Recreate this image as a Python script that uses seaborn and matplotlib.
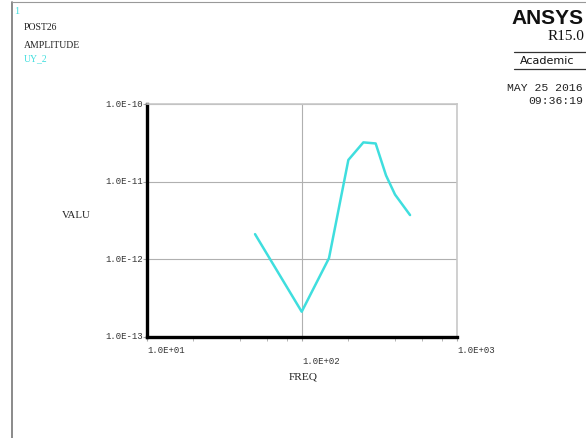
# ==========================
# Import Libraries
# ==========================

import pandas as pd
import matplotlib
matplotlib.use("Agg")
import matplotlib.pyplot as plt
import seaborn as sns
from matplotlib.lines import Line2D
from matplotlib.ticker import LogLocator, NullFormatter, FixedLocator

# ==========================
# Data
# ==========================

freq = [50, 100, 150, 200, 250, 300, 350, 400, 500]
uy_2 = [2.1e-12, 2.1e-13, 1.03e-12, 1.9e-11, 3.2e-11, 3.1e-11, 1.2e-11, 6.8e-12, 3.7e-12]

x_ticks = [1e1, 1e2, 1e3]
x_tick_labels = ["1.0E+01", "1.0E+02", "1.0E+03"]
y_ticks = [1e-13, 1e-12, 1e-11, 1e-10]
y_tick_labels = ["1.0E-13", "1.0E-12", "1.0E-11", "1.0E-10"]

df = pd.DataFrame({"FREQ": freq, "VALU": uy_2})

# ==========================
# Figure
# ==========================

sns.set_style("white")
plt.rcParams["font.family"] = ["Liberation Serif", "DejaVu Serif"]

W, H = 586, 438
fig = plt.figure(figsize=(W / 100, H / 100), dpi=100)
ax = fig.add_axes([146.7 / W, 1 - 336.7 / H, 310 / W, 232.7 / H])

sns.lineplot(
    data=df,
    x="FREQ",
    y="VALU",
    color="#3fdede",
    linewidth=1.8,
    ax=ax
)

ax.set_xscale("log")
ax.set_yscale("log")
ax.set_xlim(1e1, 1e3)
ax.set_ylim(1e-13, 1e-10)

# grid and spines
ax.xaxis.set_major_locator(FixedLocator(x_ticks))
ax.yaxis.set_major_locator(FixedLocator(y_ticks))
ax.xaxis.set_minor_locator(LogLocator(base=10, subs=(2, 4, 6, 8)))
ax.yaxis.set_minor_locator(FixedLocator([]))
ax.xaxis.set_minor_formatter(NullFormatter())
ax.set_xticklabels([])
ax.set_yticklabels([])
ax.grid(True, which="major", color="#b0b0b0", linewidth=0.8)

for side in ["left", "bottom"]:
    ax.spines[side].set_color("black")
    ax.spines[side].set_linewidth(2.4)
for side in ["top", "right"]:
    ax.spines[side].set_color("#c8c8c8")
    ax.spines[side].set_linewidth(1.2)

ax.tick_params(axis="both", which="major", direction="out", length=3,
               width=0.8, color="#a8a8a8", bottom=True, left=True)
ax.tick_params(axis="x", which="minor", direction="out", length=3,
               width=0.6, color="#a8a8a8", bottom=True)
ax.set_xlabel("")
ax.set_ylabel("")

# ==========================
# Tick labels (staggered, like ANSYS)
# ==========================

mono = {"family": ["Liberation Mono", "DejaVu Sans Mono"], "size": 6.5, "color": "#333333"}
for i, (xv, lab) in enumerate(zip(x_ticks, x_tick_labels)):
    dy = -14 if i % 2 == 0 else -25
    ax.annotate(lab, xy=(xv, 1e-13), xycoords="data",
                xytext=(1, dy), textcoords="offset pixels",
                ha="left", va="center", **mono)
for yv, lab in zip(y_ticks, y_tick_labels):
    ax.annotate(lab, xy=(1e1, yv), xycoords="data",
                xytext=(-4, 0), textcoords="offset pixels",
                ha="right", va="center", **mono)

serif = {"family": ["Liberation Serif", "DejaVu Serif"], "color": "#222222"}
fig.text(62 / W, 1 - 216 / H, "VALU", ha="left", va="center", size=7.8, **serif)
fig.text(303 / W, 1 - 377 / H, "FREQ", ha="center", va="center", size=8.2, **serif)

# ==========================
# Header texts
# ==========================

fig.text(14 / W, 1 - 12 / H, "1", ha="left", va="center", size=7.5,
         color="#3fdede", family=["Liberation Serif"])
fig.text(24 / W, 1 - 27 / H, "POST26", ha="left", va="center", size=7, **serif)
fig.text(24 / W, 1 - 46 / H, "AMPLITUDE", ha="left", va="center", size=7, **serif)
fig.text(24 / W, 1 - 59 / H, "UY_2", ha="left", va="center", size=7,
         color="#3fdede", family=["Liberation Serif"])

fig.text(584 / W, 1 - 18 / H, "ANSYS", ha="right", va="center", size=15,
         weight="bold", family=["Liberation Sans", "DejaVu Sans"], color="#111111")
fig.text(584 / W, 1 - 36 / H, "R15.0", ha="right", va="center", size=11,
         family=["Liberation Serif"], color="#111111")
fig.text(520 / W, 1 - 61 / H, "Academic", ha="left", va="center", size=8,
         family=["DejaVu Sans"], color="#111111")
for yy in [52, 69]:
    fig.add_artist(Line2D([514 / W, 1.0], [1 - yy / H, 1 - yy / H],
                          color="#333333", linewidth=0.9))
fig.text(583 / W, 1 - 88 / H, "MAY 25 2016", ha="right", va="center", size=8.2,
         family=["Liberation Mono"], color="#222222")
fig.text(583 / W, 1 - 101 / H, "09:36:19", ha="right", va="center", size=8.2,
         family=["Liberation Mono"], color="#222222")

# ==========================
# Window frame
# ==========================

fig.add_artist(Line2D([12 / W, 12 / W], [0, 1 - 2 / H], color="#777777", linewidth=1.2))
fig.add_artist(Line2D([12 / W, 1.0], [1 - 2 / H, 1 - 2 / H], color="#999999", linewidth=0.8))

plt.savefig("out.png", dpi=100)
plt.close()
